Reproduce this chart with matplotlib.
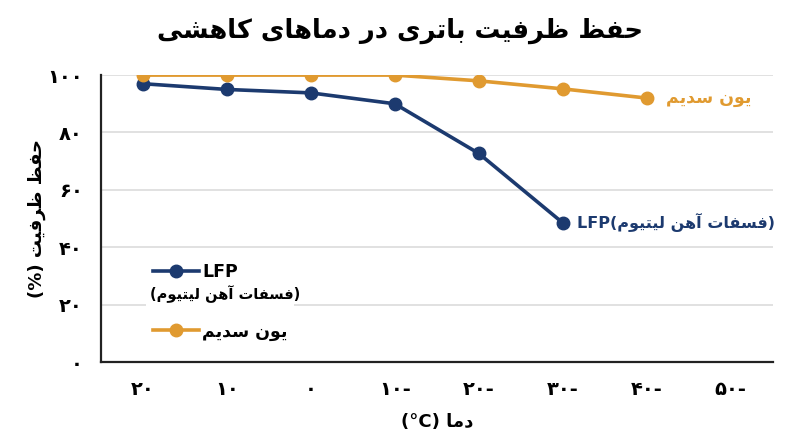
import matplotlib
matplotlib.use('Agg')
import matplotlib.pyplot as plt

# داده‌ها
temps = ['۲۰', '۱۰', '۰', '۱۰-', '۲۰-', '۳۰-', '۴۰-', '۵۰-']
lfp = [97, 95, 93.8, 90, 72.7, 48.5]
sodium = [100, 100, 100, 100, 98, 95.2, 92]
y_ticks = [0, 20, 40, 60, 80, 100]
y_labels = ['۰', '۲۰', '۴۰', '۶۰', '۸۰', '۱۰۰']

navy = '#1c3a6f'
orange = '#e09a30'

# شکل‌دهی ساده حروف فارسی (matplotlib خودش حروف را به هم وصل نمی‌کند)
# (isolated, final, initial, medial)
FORMS = {
    'ا': ('\uFE8D', '\uFE8E', None, None),
    'آ': ('\uFE81', '\uFE82', None, None),
    'د': ('\uFEA9', '\uFEAA', None, None),
    'ر': ('\uFEAD', '\uFEAE', None, None),
    'و': ('\uFEED', '\uFEEE', None, None),
    'ب': ('\uFE8F', '\uFE90', '\uFE91', '\uFE92'),
    'ت': ('\uFE95', '\uFE96', '\uFE97', '\uFE98'),
    'ح': ('\uFEA1', '\uFEA2', '\uFEA3', '\uFEA4'),
    'س': ('\uFEB1', '\uFEB2', '\uFEB3', '\uFEB4'),
    'ش': ('\uFEB5', '\uFEB6', '\uFEB7', '\uFEB8'),
    'ظ': ('\uFEC5', '\uFEC6', '\uFEC7', '\uFEC8'),
    'ف': ('\uFED1', '\uFED2', '\uFED3', '\uFED4'),
    'ک': ('\uFB8E', '\uFB8F', '\uFB90', '\uFB91'),
    'ل': ('\uFEDD', '\uFEDE', '\uFEDF', '\uFEE0'),
    'م': ('\uFEE1', '\uFEE2', '\uFEE3', '\uFEE4'),
    'ن': ('\uFEE5', '\uFEE6', '\uFEE7', '\uFEE8'),
    'ه': ('\uFEE9', '\uFEEA', '\uFEEB', '\uFEEC'),
    'ی': ('\uFBFC', '\uFBFD', '\uFBFE', '\uFBFF'),
}


def fa(text):
    out = []
    for i, c in enumerate(text):
        if c not in FORMS:
            out.append(c)
            continue
        prev = text[i - 1] if i > 0 else ''
        nxt = text[i + 1] if i + 1 < len(text) else ''
        jp = prev in FORMS and FORMS[prev][2] is not None
        jn = FORMS[c][2] is not None and nxt in FORMS
        f = FORMS[c]
        if jp and jn:
            out.append(f[3])
        elif jp:
            out.append(f[1])
        elif jn:
            out.append(f[2])
        else:
            out.append(f[0])
    return ''.join(out)[::-1]


plt.rcParams['font.family'] = ['DejaVu Sans']
plt.rcParams['font.weight'] = 'bold'

fig = plt.figure(figsize=(8, 4.47), dpi=100)
ax = fig.add_axes([0.126, 0.19, 0.84, 0.642])

x = list(range(len(temps)))
ax.plot(x[:len(lfp)], lfp, color=navy, lw=2.6, marker='o', ms=9, zorder=3,
        label='LFP')
ax.plot(x[:len(sodium)], sodium, color=orange, lw=2.6, marker='o', ms=9,
        zorder=4, label=fa('یون سدیم'))

ax.set_xlim(-0.5, len(temps) - 0.5)
ax.set_ylim(0, 100)
ax.set_xticks(x)
ax.set_xticklabels(temps)
ax.set_yticks(y_ticks)
ax.set_yticklabels(y_labels)
ax.tick_params(axis='x', length=0, pad=13, labelsize=14)
ax.tick_params(axis='y', length=0, pad=13, labelsize=14)
ax.grid(axis='y', color='#dcdcdc', lw=1.2)
ax.set_axisbelow(True)
for s in ['top', 'right']:
    ax.spines[s].set_visible(False)
for s in ['left', 'bottom']:
    ax.spines[s].set_linewidth(1.6)
    ax.spines[s].set_color('#222222')

ax.set_xlabel('(°C) ' + fa('دما'), fontsize=13, fontweight='bold', labelpad=10)
ax.set_ylabel('(%) ' + fa('حفظ ظرفیت'), fontsize=13, fontweight='bold',
              labelpad=1)

fig.suptitle(fa('حفظ ظرفیت باتری در دماهای کاهشی'), fontsize=18.5,
             fontweight='bold', x=0.5, y=0.96)

# برچسب انتهای خطوط
ax.annotate('LFP(' + fa('فسفات آهن لیتیوم') + ')', xy=(len(lfp) - 1, lfp[-1]),
            xytext=(10, 0), textcoords='offset points', ha='left', va='center',
            color=navy, fontsize=11.5, fontweight='bold')
ax.annotate(fa('یون سدیم'), xy=(len(sodium) - 1, sodium[-1]),
            xytext=(14, 0), textcoords='offset points', ha='left', va='center',
            color=orange, fontsize=12.5, fontweight='bold')

leg = ax.legend(loc='upper left', bbox_to_anchor=(0.068, 0.37), frameon=True,
                facecolor='white', edgecolor='none', framealpha=1,
                fontsize=12.5, handlelength=2.6, handletextpad=0.2,
                labelspacing=2.4, borderaxespad=0, borderpad=0.4)
leg.set_zorder(5)
ax.text(0.185, 0.238, '(' + fa('فسفات آهن لیتیوم') + ')', transform=ax.transAxes,
        ha='center', va='center', fontsize=10.5, fontweight='bold', zorder=6,
        bbox=dict(facecolor='white', edgecolor='none', pad=1))

fig.savefig('out.png', dpi=100)
